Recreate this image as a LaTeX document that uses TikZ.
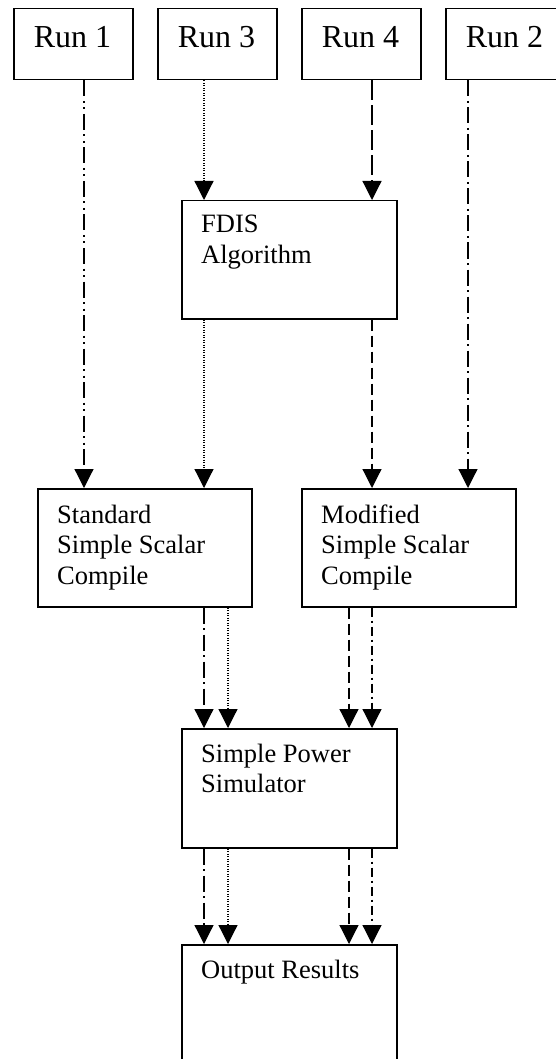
\documentclass[tikz,border=0pt]{standalone}
\usepackage{fontspec}
\setmainfont{Liberation Serif}
\usetikzlibrary{arrows.meta}
\begin{document}
\begin{tikzpicture}[x=1pt,y=-1pt,
  box/.style={draw,line width=1.5pt,rectangle,inner sep=0pt,anchor=north west},
  runtxt/.style={inner sep=0pt,anchor=base,font=\fontsize{32}{38}\selectfont},
  lbl/.style={inner sep=0pt,anchor=base west,font=\fontsize{26.5}{30.5}\selectfont},
  conn/.style={line width=1.2pt,-{Triangle[width=19pt,length=19pt]}},
  dashdotdot/.style={dash pattern=on 16pt off 4.5pt on 2pt off 4.5pt on 2pt off 4.5pt},
  dashdot/.style={dash pattern=on 16pt off 4.5pt on 2pt off 4.5pt},
  dotline/.style={dash pattern=on 1pt off 1.5pt},
  longdash/.style={dash pattern=on 20pt off 5pt},
  meddash/.style={dash pattern=on 11pt off 5pt},
  shortdashdot/.style={dash pattern=on 9pt off 4pt on 2pt off 4pt}]
\useasboundingbox (0,0) rectangle (556,1059);
% boxes
\node[box,minimum width=119pt,minimum height=71pt] (run1) at (13,8) {};
\node[box,minimum width=119pt,minimum height=71pt] (run3) at (157,8) {};
\node[box,minimum width=119pt,minimum height=71pt] (run4) at (301,8) {};
\node[box,minimum width=119pt,minimum height=71pt] (run2) at (445,8) {};
\node[runtxt] (t1) at (72.5,48) {Run 1};
\node[runtxt] (t3) at (216.5,48) {Run 3};
\node[runtxt] (t4) at (360.5,48) {Run 4};
\node[runtxt] (t2) at (504.5,48) {Run 2};
\node[box,minimum width=215pt,minimum height=118pt] (fdis) at (181,200) {};
\node[lbl] (tf) at (201,233) {\begin{tabular}[t]{@{}l@{}}FDIS\\Algorithm\end{tabular}};
\node[box,minimum width=214pt,minimum height=118pt] (std) at (37,488) {};
\node[lbl] (ts) at (57,523) {\begin{tabular}[t]{@{}l@{}}Standard\\Simple Scalar\\Compile\end{tabular}};
\node[box,minimum width=214pt,minimum height=118pt] (mod) at (301,488) {};
\node[lbl] (tm) at (321,523) {\begin{tabular}[t]{@{}l@{}}Modified\\Simple Scalar\\Compile\end{tabular}};
\node[box,minimum width=215pt,minimum height=119pt] (sim) at (181,728) {};
\node[lbl] (tsim) at (201,762) {\begin{tabular}[t]{@{}l@{}}Simple Power\\Simulator\end{tabular}};
\node[box,minimum width=215pt,minimum height=140pt] (out) at (181,944) {};
\node[lbl] (to) at (201,978) {Output Results};
% x positions of the connectors
\coordinate (xa) at (84,0);
\coordinate (xb) at (204,0);
\coordinate (xc) at (228,0);
\coordinate (xd) at (349,0);
\coordinate (xe) at (372,0);
\coordinate (xf) at (468,0);
% connectors
\draw[conn,dashdotdot] (run1.south -| xa) -- (std.north -| xa);
\draw[conn,dotline] (run3.south -| xb) -- (fdis.north -| xb);
\draw[conn,longdash] (run4.south -| xe) -- (fdis.north -| xe);
\draw[conn,dashdot] (run2.south -| xf) -- (mod.north -| xf);
\draw[conn,dotline] (fdis.south -| xb) -- (std.north -| xb);
\draw[conn,meddash] (fdis.south -| xe) -- (mod.north -| xe);
\draw[conn,dashdot] (std.south -| xb) -- (sim.north -| xb);
\draw[conn,dotline] (std.south -| xc) -- (sim.north -| xc);
\draw[conn,meddash] (mod.south -| xd) -- (sim.north -| xd);
\draw[conn,shortdashdot] (mod.south -| xe) -- (sim.north -| xe);
\draw[conn,dashdot] (sim.south -| xb) -- (out.north -| xb);
\draw[conn,dotline] (sim.south -| xc) -- (out.north -| xc);
\draw[conn,meddash] (sim.south -| xd) -- (out.north -| xd);
\draw[conn,shortdashdot] (sim.south -| xe) -- (out.north -| xe);
\end{tikzpicture}
\end{document}
